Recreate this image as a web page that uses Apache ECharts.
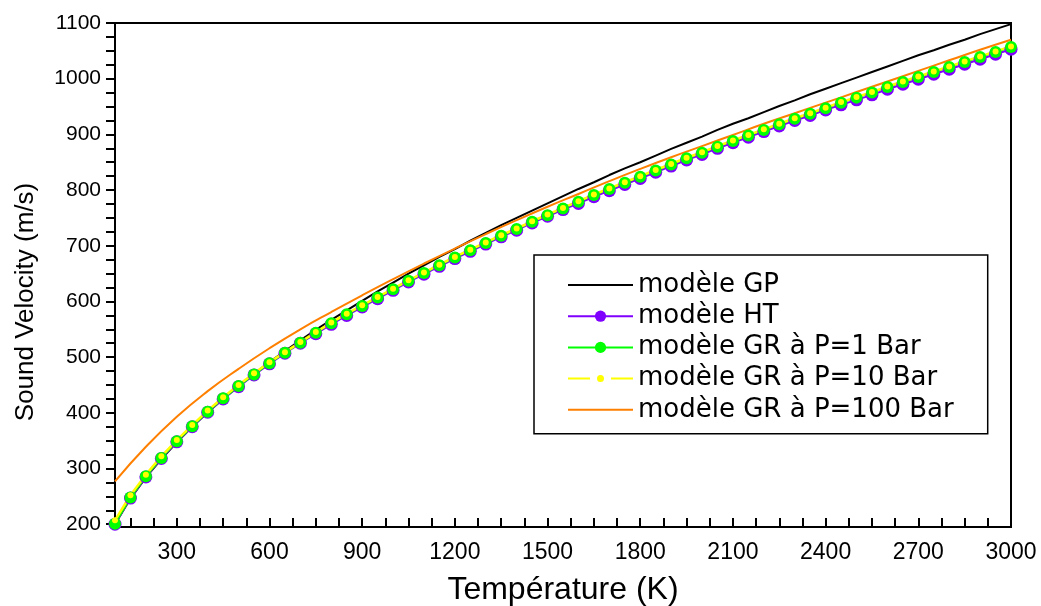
<!DOCTYPE html>
<html><head><meta charset="utf-8">
<script src="https://cdn.jsdelivr.net/npm/echarts@6/dist/echarts.min.js"></script>
<style>html,body{margin:0;padding:0;background:#fff}#c{width:1041px;height:606px}</style>
</head><body><div id="c"></div>
<script>
// Temperature (K) sampled every 50 K
const temperature = [100,150,200,250,300,350,400,450,500,550,600,650,700,750,800,850,900,950,1000,1050,1100,1150,1200,1250,1300,1350,1400,1450,1500,1550,1600,1650,1700,1750,1800,1850,1900,1950,2000,2050,2100,2150,2200,2250,2300,2350,2400,2450,2500,2550,2600,2650,2700,2750,2800,2850,2900,2950,3000];
const gpModel = [200,246,284,317,347,375,401,425,448,470,491,511,530,549,567,584,601,618,634,650,665,680,694,709,723,737,750,763,776,789,802,814,827,839,850,862,874,885,896,908,919,929,940,951,961,972,982,992,1002,1012,1022,1032,1042,1051,1061,1070,1080,1089,1098];
const htModel = [200,247,285,318,348,375,401,425,447,468,488,507,525,542,559,575,590,605,620,635,649,663,677,690,703,716,728,741,753,765,776,788,799,810,821,832,843,854,864,875,885,895,905,915,925,934,944,953,962,971,981,990,999,1008,1017,1026,1035,1044,1053];
const gr1Bar = [201,248,286,319,349,376,402,426,448,469,489,508,526,544,561,577,592,607,622,637,651,665,679,692,705,718,730,743,755,767,779,791,802,813,824,835,846,857,867,878,888,898,908,918,928,937,947,957,966,975,985,994,1003,1012,1021,1030,1039,1048,1057];
const gr10Bar = [207,252,289,322,351,378,404,428,450,471,491,509,527,545,562,578,593,608,623,638,652,666,680,693,706,719,731,744,756,768,780,792,803,814,825,836,847,858,868,879,889,899,909,919,929,938,948,958,967,976,986,995,1004,1013,1022,1031,1040,1049,1058];
// GR at P=100 Bar, sampled every 100 K
const temperature100 = [100,200,300,400,500,600,700,800,900,1000,1100,1200,1300,1400,1500,1600,1700,1800,1900,2000,2100,2200,2300,2400,2500,2600,2700,2800,2900,3000];
const gr100Bar = [277,339,393,439,479,516,550,581,611,640,668,695,721,746,770,793,816,838,859,879,899,919,938,957,976,995,1014,1033,1052,1070];

const xTickLabels = [300,600,900,1200,1500,1800,2100,2400,2700,3000];
const yTickLabels = [200,300,400,500,600,700,800,900,1000,1100];
const seriesNames = ['modèle GP','modèle HT','modèle GR à P=1 Bar','modèle GR à P=10 Bar','modèle GR à P=100 Bar'];
const xTitle = 'Température (K)';
const yTitle = 'Sound Velocity (m/s)';

const pairs = (xs, ys) => xs.map((x, i) => [x, ys[i]]);
const xAllTicks = [];
for (let v = 150; v <= 3000; v += 75) xAllTicks.push(v);
const yAllTicks = [];
for (let v = 200; v <= 1100; v += 25) yAllTicks.push(v);

const FONT = 'Liberation Sans, Arial, sans-serif';
const black = '#000';
const plain = v => String(v);
const chart = echarts.init(document.getElementById('c'), null, {renderer: 'canvas'});
chart.setOption({
  animation: false,
  backgroundColor: '#fff',
  grid: {left: 115, right: 30, top: 23, bottom: 79, show: true, borderColor: black, borderWidth: 2,
         backgroundColor: 'transparent', outerBoundsMode: 'none', containLabel: false},
  xAxis: {type: 'value', min: 100, max: 3000, position: 'bottom',
     axisLine: {show: true, onZero: false, lineStyle: {color: black, width: 2}},
     axisTick: {show: true, inside: true, length: 9, customValues: xAllTicks, lineStyle: {color: black, width: 2}},
     axisLabel: {customValues: xTickLabels, formatter: plain, margin: 14, fontSize: 23, color: black, fontFamily: FONT},
     splitLine: {show: false},
     name: xTitle, nameLocation: 'middle', nameGap: 47,
     nameTextStyle: {fontSize: 32, color: black, fontFamily: FONT}},
  yAxis: {type: 'value', min: 195, max: 1100, position: 'left',
     axisLine: {show: true, onZero: false, lineStyle: {color: black, width: 2}},
     axisTick: {show: true, inside: false, length: 9, customValues: yAllTicks, lineStyle: {color: black, width: 2}},
     axisLabel: {customValues: yTickLabels, formatter: plain, margin: 14, fontSize: 21, color: black, fontFamily: FONT},
     splitLine: {show: false},
     name: yTitle, nameLocation: 'middle', nameGap: 76, nameRotate: 90,
     nameTextStyle: {fontSize: 26, color: black, fontFamily: FONT, padding: [0, 54, 0, 0]}},
  legend: {
    orient: 'vertical', left: 534, top: 255, align: 'left',
    itemWidth: 65, itemHeight: 14, itemGap: 5.2, itemTextGap: 8,
    padding: [17, 34, 11, 33],
    borderColor: black, borderWidth: 1.5, backgroundColor: '#fff',
    textStyle: {fontFamily: 'DejaVu Sans', fontSize: 26, color: black, lineHeight: 26},
    data: [
      {name: seriesNames[0], icon: 'path://M0,0 L65,0 L65,2 L0,2 Z'},
      {name: seriesNames[1]},
      {name: seriesNames[2]},
      {name: seriesNames[3], icon: 'path://M0,2 L22,2 L22,4 L0,4 Z M43,2 L65,2 L65,4 L43,4 Z M29,3 A3.5,3.5 0 1 0 36,3 A3.5,3.5 0 1 0 29,3 Z'},
      {name: seriesNames[4], icon: 'path://M0,0 L65,0 L65,2 L0,2 Z'}
    ]
  },
  series: [
    {name: seriesNames[0], type: 'line', data: pairs(temperature, gpModel), symbol: 'none', smooth: false,
     lineStyle: {color: '#000000', width: 2}, itemStyle: {color: '#000000'}},
    {name: seriesNames[1], type: 'line', data: pairs(temperature, htModel), symbol: 'circle', symbolSize: 13,
     lineStyle: {color: '#8000FF', width: 2}, itemStyle: {color: '#8000FF'}},
    {name: seriesNames[2], type: 'line', data: pairs(temperature, gr1Bar), symbol: 'circle', symbolSize: 12,
     lineStyle: {color: '#00FF00', width: 2}, itemStyle: {color: '#00FF00'}},
    {name: seriesNames[3], type: 'line', data: pairs(temperature, gr10Bar), symbol: 'circle', symbolSize: 6,
     lineStyle: {color: '#FFFF00', width: 2.5}, itemStyle: {color: '#FFFF00'}},
    {name: seriesNames[4], type: 'line', data: pairs(temperature100, gr100Bar), symbol: 'none', smooth: true,
     lineStyle: {color: '#FF8000', width: 2}, itemStyle: {color: '#FF8000'}}
  ]
});
</script>
</body></html>
